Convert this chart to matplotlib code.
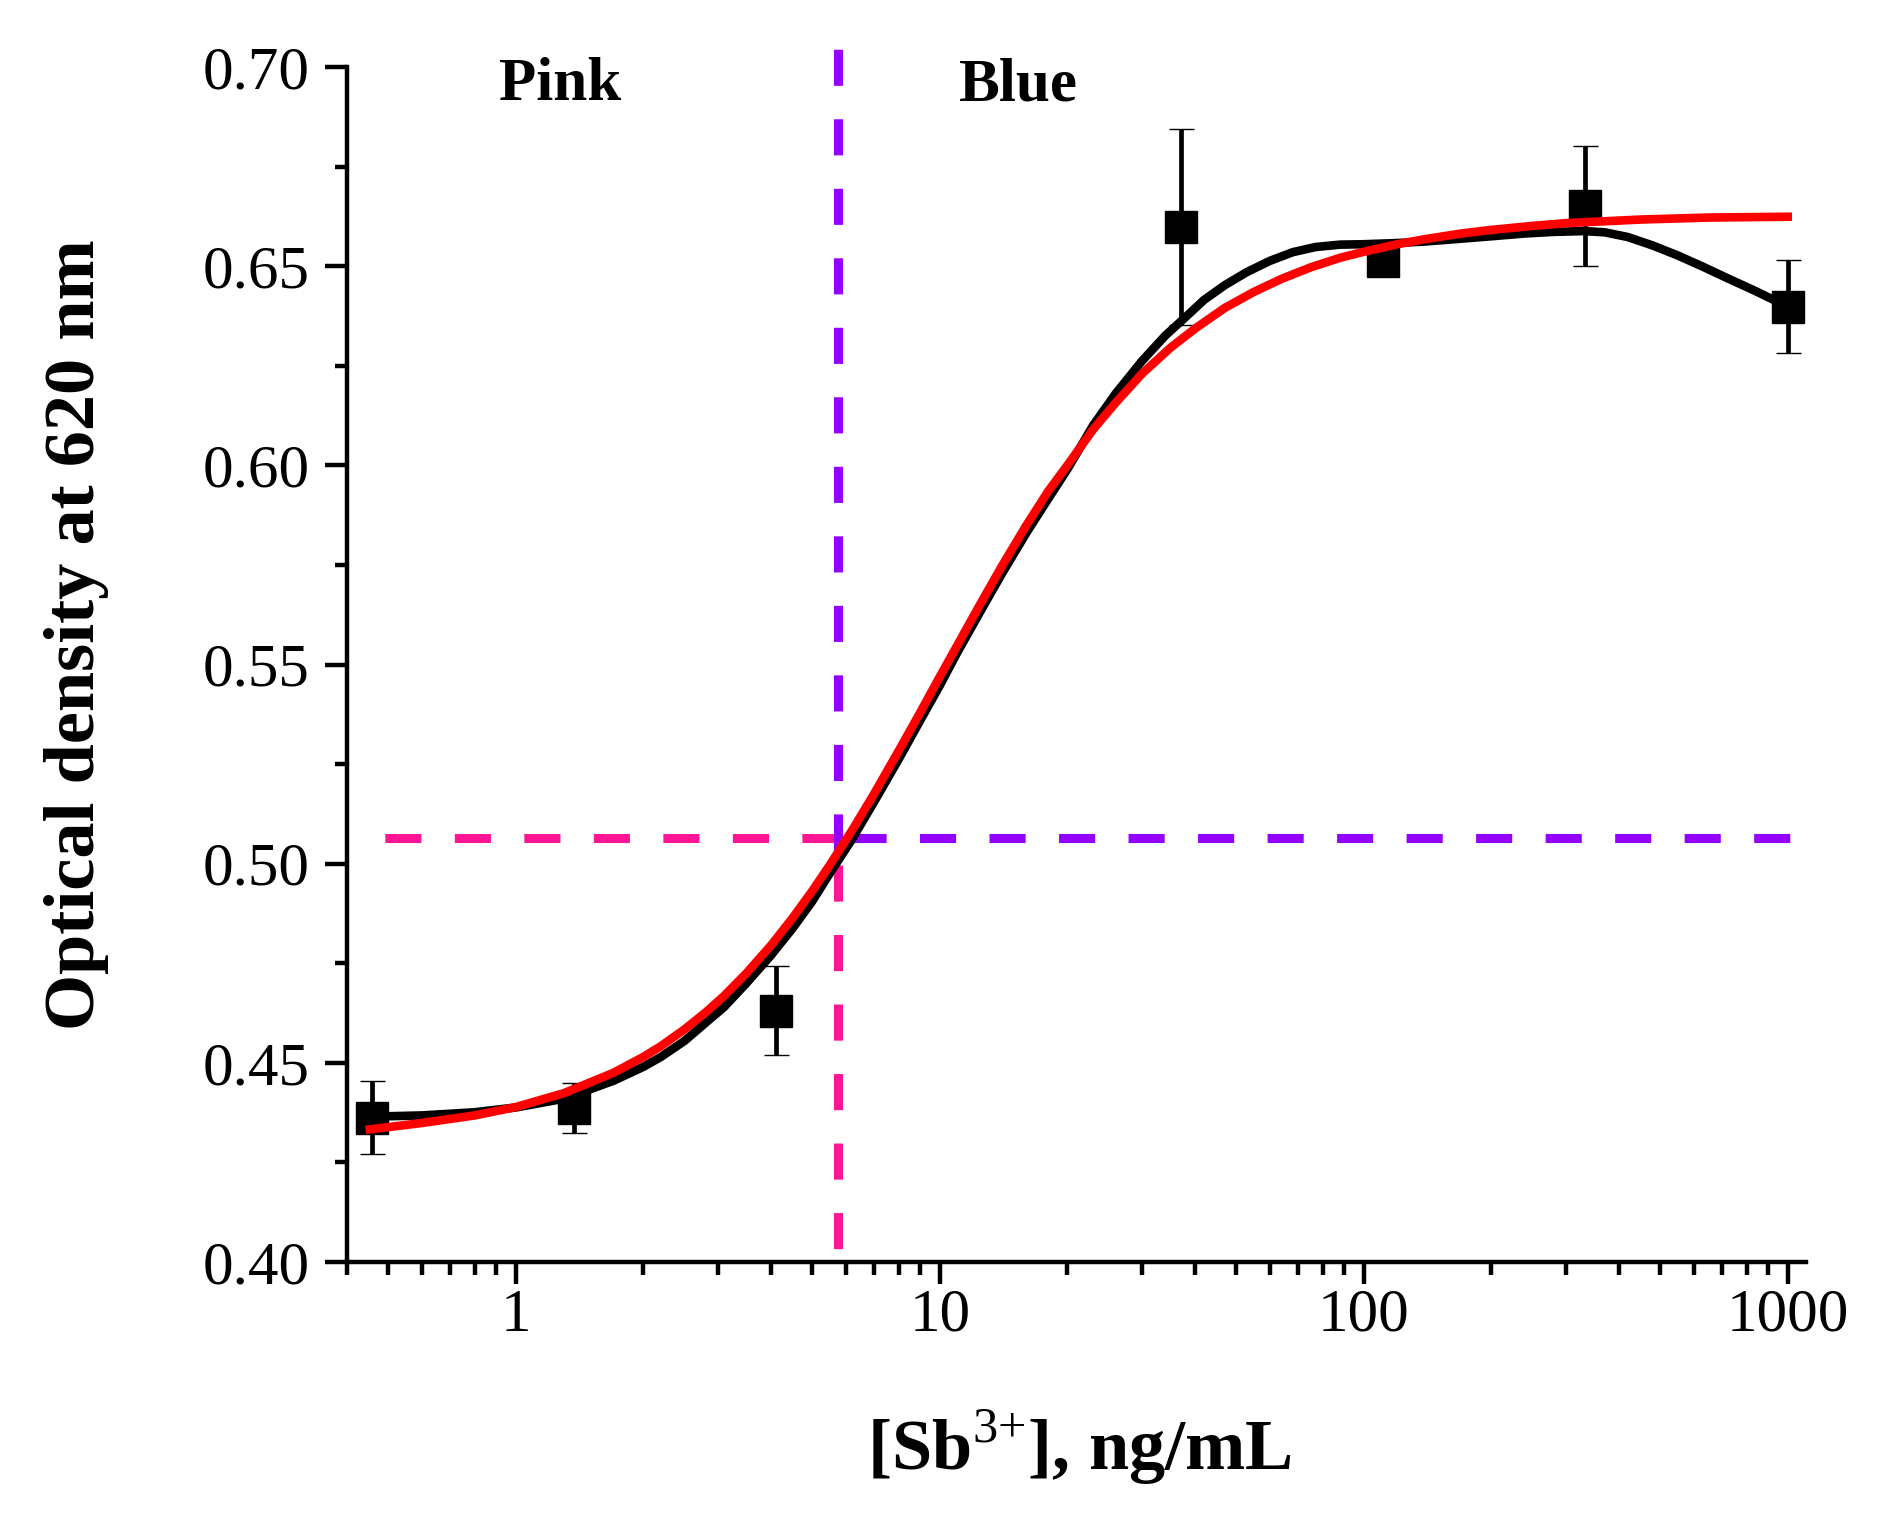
import matplotlib
matplotlib.use('Agg')
import matplotlib.pyplot as plt
from matplotlib.ticker import FixedLocator, LogLocator, MultipleLocator, FormatStrFormatter, NullFormatter

plt.rcParams['font.family'] = ['Liberation Serif', 'DejaVu Serif']
plt.rcParams['mathtext.fontset'] = 'custom'
plt.rcParams['mathtext.rm'] = 'Liberation Serif'

# measured points: Sb(III) concentration, ng/mL -> optical density at 620 nm
conc = [0.457, 1.372, 4.115, 37.04, 111.1, 333.3, 1000]
od = [0.4362, 0.4387, 0.4631, 0.6599, 0.6514, 0.6651, 0.6398]
od_err = [0.0092, 0.0062, 0.0111, 0.0246, 0.0020, 0.0150, 0.0117]

# black smoothed curve
black_x = [0.457, 0.6, 0.8, 1.0, 1.3, 1.7, 2.0, 2.2, 2.5, 2.8, 3.1, 3.5, 4.0, 4.5, 5.0,
           5.5, 6.2, 7, 8, 9, 10, 11, 12.5, 14, 16, 18, 20, 23, 26, 30, 34, 38, 42,
           47, 53, 60, 68, 77, 88, 100, 120, 140, 170, 200, 240, 280, 330, 370, 420,
           480, 550, 630, 720, 830, 920, 1000]
black_y = [0.4365, 0.4368, 0.4376, 0.4388, 0.4410, 0.4455, 0.4490, 0.4515, 0.4555,
           0.4600, 0.4640, 0.4700, 0.4770, 0.4838, 0.4905, 0.4975, 0.5060, 0.5155,
           0.5262, 0.5360, 0.5447, 0.5530, 0.5635, 0.5727, 0.5830, 0.5915, 0.5990,
           0.6100, 0.6180, 0.6262, 0.6325, 0.6372, 0.6415, 0.6452, 0.6485, 0.6513,
           0.6535, 0.6548, 0.6554, 0.6555, 0.6558, 0.6562, 0.6569, 0.6575, 0.6582,
           0.6586, 0.6588, 0.6585, 0.6573, 0.6552, 0.6527, 0.6499, 0.6470, 0.6440,
           0.6417, 0.6398]

# red sigmoid fit
red_x = [0.453, 0.6, 0.8, 1.0, 1.3, 1.7, 2.0, 2.2, 2.5, 2.8, 3.1, 3.5, 4.0, 4.5, 5.0,
         5.5, 6.2, 7, 8, 9, 10, 11, 12.5, 14, 16, 18, 20, 23, 26, 30, 35, 40, 47, 55,
         64, 75, 88, 100, 120, 140, 170, 200, 250, 300, 450, 650, 1000]
red_y = [0.4333, 0.4349, 0.4368, 0.4389, 0.4424, 0.4475, 0.4515, 0.4542, 0.4584,
         0.4626, 0.4668, 0.4725, 0.4795, 0.4864, 0.4931, 0.4996, 0.5082, 0.5175,
         0.5283, 0.5380, 0.5469, 0.5548, 0.5654, 0.5746, 0.5849, 0.5934, 0.6000,
         0.6090, 0.6157, 0.6230, 0.6295, 0.6343, 0.6395, 0.6435, 0.6468, 0.6497,
         0.6521, 0.6536, 0.6555, 0.6568, 0.6582, 0.6591, 0.6601, 0.6608, 0.6617,
         0.6622, 0.6624]

# colour change point
cut_x = 5.77
cut_y = 0.5064

pink = '#FF1493'
violet = '#9400FF'
dash = (0, (4.0, 3.7))

fig = plt.figure(figsize=(18.87, 15.22), dpi=100)
ax = fig.add_axes([0.1839, 0.1708, 0.7732, 0.7852])

# dashed guide lines
ax.plot([cut_x, 0.416], [cut_y, cut_y], color=pink, lw=6.5, ls=dash, zorder=1)
ax.plot([6.15, 1080], [cut_y, cut_y], color=violet, lw=6.5, ls=dash, zorder=1)
ax.plot([cut_x, cut_x], [0.4996, 0.4015], color=pink, lw=6.5, ls=dash, zorder=1)
ax.plot([cut_x, cut_x], [0.5034, 0.7053], color=violet, lw=6.5, ls=dash, zorder=1,
        clip_on=False)

ax.errorbar(conc, od, yerr=od_err, fmt='s', color='black', ms=22.5, mew=1,
            elinewidth=3.4, capsize=9, capthick=3.4, zorder=2)
ax.plot(black_x, black_y, color='black', lw=6.2, zorder=3, solid_joinstyle='round')
ax.plot(red_x, red_y, color='#FF0000', lw=6.2, zorder=4, solid_joinstyle='round')

ax.set_xscale('log')
ax.set_xlim(0.4, 1105)
ax.set_ylim(0.40, 0.70)

ax.xaxis.set_major_locator(FixedLocator([1, 10, 100, 1000]))
ax.xaxis.set_major_formatter(FormatStrFormatter('%g'))
ax.xaxis.set_minor_locator(LogLocator(base=10, subs=range(2, 10)))
ax.xaxis.set_minor_formatter(NullFormatter())
ax.yaxis.set_major_locator(MultipleLocator(0.05))
ax.yaxis.set_minor_locator(MultipleLocator(0.025))
ax.yaxis.set_major_formatter(FormatStrFormatter('%.2f'))

for s in ['top', 'right']:
    ax.spines[s].set_visible(False)
for s in ['left', 'bottom']:
    ax.spines[s].set_linewidth(3.2)

ax.tick_params(which='major', direction='out', length=16, width=3.2, labelsize=44)
ax.tick_params(which='minor', direction='out', length=9, width=3.2)
ax.tick_params(axis='y', pad=11)
ax.tick_params(axis='x', pad=3)

ax.text(1.273, 0.6916, 'Pink', fontsize=44, fontweight='bold', ha='center', va='baseline')
ax.text(15.3, 0.6916, 'Blue', fontsize=44, fontweight='bold', ha='center', va='baseline')

fig.text(0.5721, 1 - 1470 / 1522, r'[Sb$^{3{+}}$], ng/mL', fontsize=52,
         fontweight='bold', ha='center', va='baseline')
fig.text(94 / 1887, 1 - 635 / 1522, 'Optical density at 620 nm', fontsize=52,
         fontweight='bold', rotation=90, rotation_mode='anchor', ha='center', va='baseline')

fig.savefig('out.png', dpi=100)
